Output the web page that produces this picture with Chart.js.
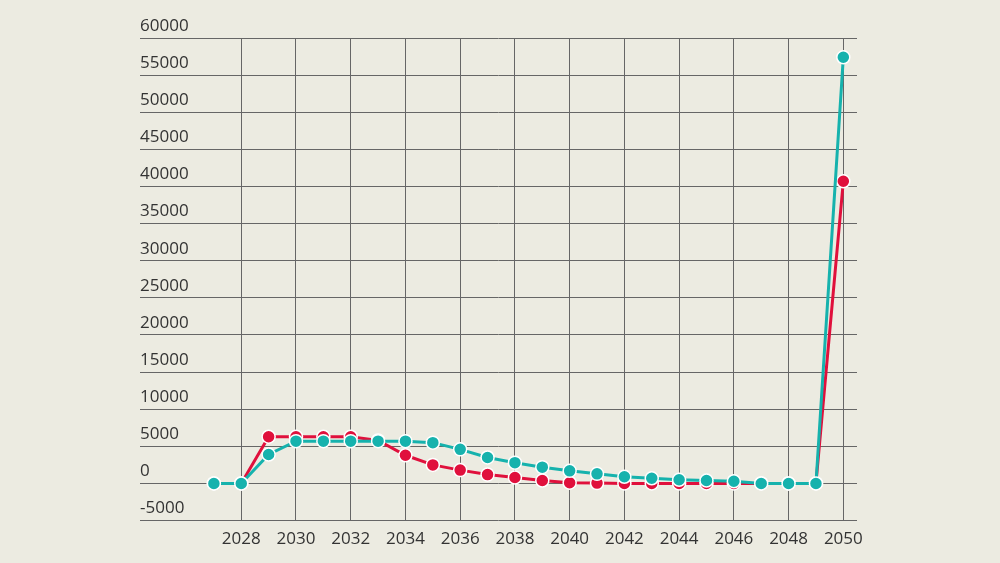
<!DOCTYPE html>
<html>
<head>
<meta charset="utf-8">
<script src="https://cdn.jsdelivr.net/npm/chart.js@4"></script>
<style>
  html, body { margin: 0; padding: 0; background: #ecebe1; }
  #wrap { width: 1000px; height: 563px; }
</style>
</head>
<body>
<div id="wrap"><canvas id="chart" width="1000" height="563"></canvas></div>
<script>
const years = [2027, 2028, 2029, 2030, 2031, 2032, 2033, 2034, 2035, 2036, 2037, 2038,
  2039, 2040, 2041, 2042, 2043, 2044, 2045, 2046, 2047, 2048, 2049, 2050];
const redValues = [0, 0, 6300, 6300, 6300, 6300, 5800, 3800, 2500, 1800, 1200, 800,
  400, 100, 50, 0, 0, 0, 0, 0, 0, 0, 0, 40700];
const tealValues = [0, 0, 3900, 5700, 5700, 5700, 5700, 5700, 5500, 4600, 3500, 2800,
  2200, 1700, 1300, 900, 700, 500, 400, 300, 0, 0, 0, 57400];
const xTicks = [2028, 2030, 2032, 2034, 2036, 2038, 2040, 2042, 2044, 2046, 2048, 2050];

const toPoints = (vals) => years.map((y, i) => ({ x: y, y: vals[i] }));

const series = (vals, color, order) => ({
  data: toPoints(vals),
  order: order,
  borderColor: color,
  backgroundColor: color,
  borderWidth: 3,
  pointRadius: 6.5,
  pointBorderColor: "#ffffff",
  pointBorderWidth: 1.5,
  tension: 0,
});

// teal drawn on top of red
new Chart(document.getElementById("chart"), {
  type: "line",
  data: {
    datasets: [series(redValues, "#e0103c", 2), series(tealValues, "#16b2ad", 1)],
  },
  options: {
    responsive: false,
    animation: false,
    layout: { padding: { left: 140, right: 143, top: 38, bottom: 6 } },
    plugins: { legend: { display: false }, tooltip: { enabled: false } },
    scales: {
      x: {
        type: "linear",
        min: 2024.3,
        max: 2050.5,
        afterBuildTicks: (axis) => { axis.ticks = xTicks.map((v) => ({ value: v })); },
        grid: { color: "#666", lineWidth: 1, drawTicks: false },
        border: { display: false },
        ticks: { color: "#333", font: { family: "Open Sans", size: 17 }, padding: 8,
          callback: (v) => String(v) },
      },
      y: {
        min: -5000,
        max: 60000,
        grid: { color: "#666", lineWidth: 1, drawTicks: false },
        border: { display: false },
        ticks: {
          stepSize: 5000,
          mirror: true,
          padding: 0,
          labelOffset: -12,
          color: "#333",
          font: { family: "Open Sans", size: 17 },
          callback: (v) => String(v),
        },
      },
    },
  },
});
</script>
</body>
</html>
